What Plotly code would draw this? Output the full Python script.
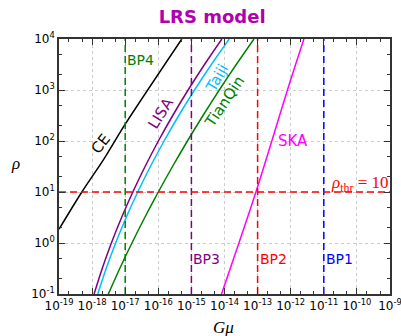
import plotly.graph_objects as go

# SNR curves: log10(G mu) at the listed log10(rho) values, per detector
ce_log_gmu = [-19.0, -18.31, -17.66, -17.0, -15.29]
ce_log_rho = [0.27, 1.0, 1.63, 2.33, 4.0]

rho_grid = [-1.0, -0.5, 0.0, 0.5, 1.0, 1.5, 2.0, 2.5, 3.0, 3.5, 4.0]
lisa_log_gmu = [-17.94, -17.694, -17.418, -17.109, -16.77, -16.399, -15.998, -15.564, -15.10, -14.604, -14.08]
taiji_log_gmu = [-17.83, -17.575, -17.289, -16.971, -16.621, -16.239, -15.826, -15.381, -14.905, -14.397, -13.858]
tianqin_log_gmu = [-17.51, -17.164, -16.797, -16.409, -16.0, -15.570, -15.120, -14.649, -14.157, -13.644, -13.11]

ska_log_gmu = [-14.09, -13.05, -12.02, -11.6]
ska_log_rho = [-1.0, 1.0, 3.16, 4.0]

# benchmark points
bp_names = ["BP1", "BP2", "BP3", "BP4"]
bp_log_gmu = [-11, -13, -15, -17]
bp_colors = ["blue", "red", "purple", "green"]

rho_thr = 10
x_exp = list(range(-19, -8))
y_exp = list(range(-1, 5))

fig = go.Figure()


def tenpow(vals):
    return [10.0 ** v for v in vals]


curves = [
    (ce_log_gmu, ce_log_rho, "black"),
    (lisa_log_gmu, rho_grid, "purple"),
    (taiji_log_gmu, rho_grid, "deepskyblue"),
    (tianqin_log_gmu, rho_grid, "green"),
    (ska_log_gmu, ska_log_rho, "magenta"),
]
for gx, ry, col in curves:
    fig.add_trace(go.Scatter(x=tenpow(gx), y=tenpow(ry), mode="lines",
                             line=dict(color=col, width=1.5, shape="spline", smoothing=0.8),
                             showlegend=False, hoverinfo="skip"))

y_lo, y_hi = 10.0 ** y_exp[0], 10.0 ** y_exp[-1]
x_lo, x_hi = 10.0 ** x_exp[0], 10.0 ** x_exp[-1]

for g, col in zip(bp_log_gmu, bp_colors):
    fig.add_trace(go.Scatter(x=[10.0 ** g, 10.0 ** g], y=[y_lo, y_hi], mode="lines",
                             line=dict(color=col, width=1.5, dash="7px,4px"),
                             showlegend=False, hoverinfo="skip"))

fig.add_trace(go.Scatter(x=[x_lo, x_hi], y=[rho_thr, rho_thr], mode="lines",
                         line=dict(color="red", width=1.5, dash="7px,4px"),
                         showlegend=False, hoverinfo="skip"))

ann = []
# detector labels along the curves
det_labels = [
    ("CE", "black", -17.74, 1.94, -52),
    ("LISA", "purple", -15.92, 2.55, -58),
    ("Taiji", "deepskyblue", -14.23, 3.24, -60),
    ("TianQin", "green", -14.0, 2.76, -56),
    ("SKA", "magenta", -11.93, 2.0, 0),
]
for txt, col, lx, ly, ang in det_labels:
    ann.append(dict(x=lx, y=ly, text=txt, showarrow=False, textangle=ang,
                    font=dict(color=col, size=15, family="DejaVu Sans"),
                    xanchor="center", yanchor="middle"))

bp_label_y = {"BP4": 3.59}
for name, g, col in zip(bp_names, bp_log_gmu, bp_colors):
    ann.append(dict(x=g, y=bp_label_y.get(name, -0.31), text=name, showarrow=False,
                    xanchor="left", yanchor="middle", xshift=0,
                    font=dict(color=col, size=14, family="DejaVu Sans")))

ann.append(dict(x=-10.84, y=1.16, text="<i>ρ</i><sub>thr</sub> = 10", showarrow=False,
                xanchor="left", yanchor="middle",
                font=dict(color="red", size=17, family="Liberation Serif")))

# axis titles
ann.append(dict(xref="paper", yref="paper", x=0.498, y=-0.133, text="<i>Gμ</i>",
                showarrow=False, yanchor="middle", xanchor="center",
                font=dict(size=17, family="Liberation Serif", color="black")))
ann.append(dict(xref="paper", yref="paper", x=-0.13, y=0.51, text="<i>ρ</i>",
                showarrow=False, xanchor="center", yanchor="middle",
                font=dict(size=17, family="Liberation Serif", color="black")))


def pow_labels(exps):
    return ["10<sup>%d</sup>" % e for e in exps]


axis_common = dict(
    type="log", tickmode="array", tickangle=0, automargin=False,
    ticklabeloverflow="allow",
    ticks="inside", ticklen=6, tickwidth=1, tickcolor="#333",
    showline=True, linecolor="#333", linewidth=1.5, mirror="allticks",
    showgrid=True, gridcolor="#cccccc", griddash="dot", gridwidth=1,
    zeroline=False,
    tickfont=dict(size=12, family="DejaVu Sans", color="black"),
    minor=dict(ticks="inside", ticklen=3, tickcolor="#333", showgrid=False),
)

fig.update_layout(
    width=401, height=336,
    margin=dict(l=59, r=11, t=39, b=42),
    paper_bgcolor="white", plot_bgcolor="white",
    title=dict(text="<b>LRS model</b>", x=0.529, xanchor="center", y=0.95, yanchor="middle",
               font=dict(size=18, color="#b000b0", family="DejaVu Sans")),
    xaxis=dict(range=[x_exp[0], x_exp[-1]], tickvals=tenpow(x_exp),
               ticktext=pow_labels(x_exp), **axis_common),
    yaxis=dict(range=[y_exp[0], y_exp[-1]], tickvals=tenpow(y_exp),
               ticktext=pow_labels(y_exp), **axis_common),
    annotations=ann,
)

fig.write_html("out.html")
